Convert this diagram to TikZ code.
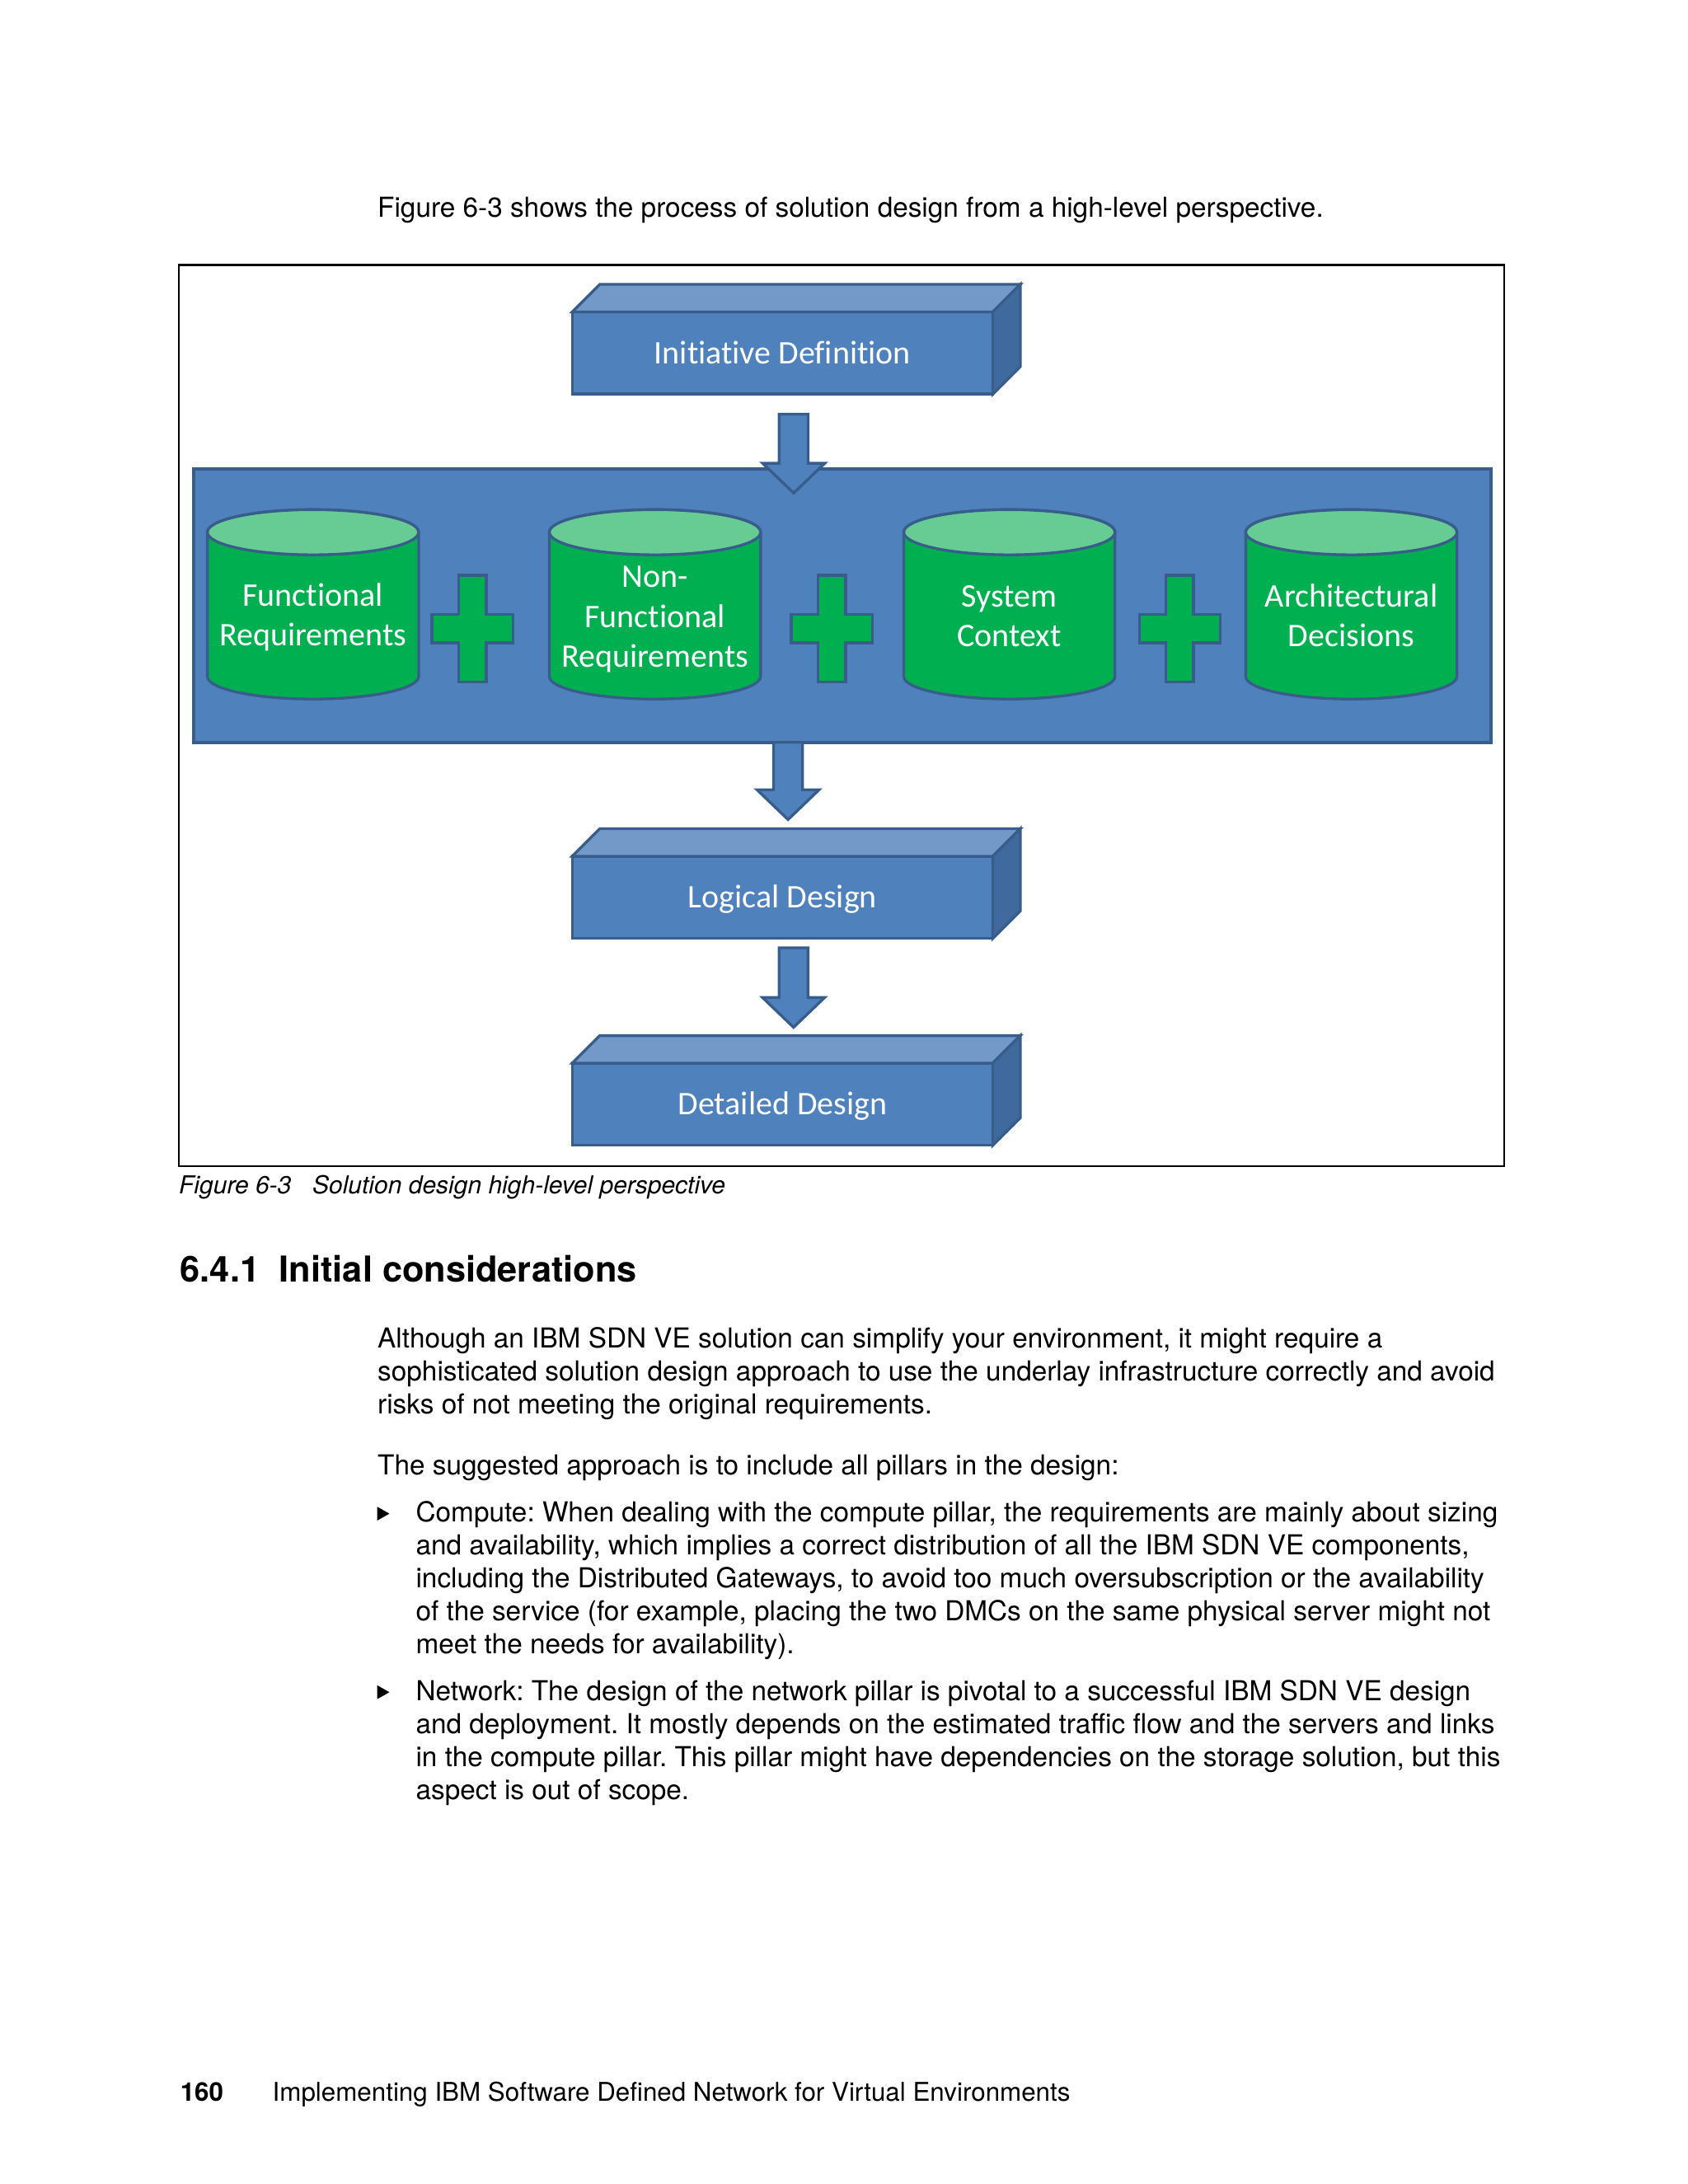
\documentclass[tikz,border=0pt]{standalone}
\usepackage{fontspec}
\setmainfont{TeX Gyre Heros}
\newfontfamily\calibri[Ligatures=NoCommon]{Carlito}
\usetikzlibrary{calc}
\frenchspacing

\definecolor{boxblue}{HTML}{4F81BD}
\definecolor{boxline}{HTML}{385D8A}
\definecolor{boxtop}{HTML}{7399C9}
\definecolor{boxside}{HTML}{406A9E}
\definecolor{pillargreen}{HTML}{00B050}
\definecolor{pillartop}{HTML}{66CC94}

\tikzset{
  stage/.style={draw=boxline, fill=boxblue, line width=1bp, outer sep=0pt, inner sep=0pt,
    minimum width=152.5bp, minimum height=29.8bp, text=white,
    font=\calibri\fontsize{12}{14.4}\selectfont, text height=9.5bp, text depth=1.7bp},
  stagetop/.style={draw=boxline, fill=boxtop, line width=1bp},
  stageside/.style={draw=boxline, fill=boxside, line width=1bp},
  layer/.style={draw=boxline, fill=boxblue, line width=1.2bp, outer sep=0pt, inner sep=0pt,
    minimum width=470.3bp, minimum height=99.1bp},
  pillarbody/.style={draw=boxline, fill=pillargreen, line width=1bp},
  pillarcap/.style={draw=boxline, fill=pillartop, line width=1bp},
  pillar/.style={text=white, align=center, inner sep=0pt,
    font=\calibri\fontsize{12}{14.45}\selectfont},
  plus/.style={draw=boxline, fill=pillargreen, line width=1bp},
  blockarrow/.style={draw=boxline, fill=boxblue, line width=1bp,
    to path={let \p1=(\tikztostart), \p2=(\tikztotarget) in
      (\x1-5.25bp,\y1) -- (\x1+5.25bp,\y1) -- (\x1+5.25bp,\y2+10.8bp)
      -- (\x1+11.25bp,\y2+10.8bp) -- (\x1,\y2) -- (\x1-11.25bp,\y2+10.8bp)
      -- (\x1-5.25bp,\y2+10.8bp) -- cycle}},
  line/.style={anchor=base west, inner sep=0pt, font=\fontsize{10}{12}\selectfont},
}

\begin{document}
\begin{tikzpicture}[x=1bp,y=1bp]
\useasboundingbox (0,0) rectangle (612,-792);
\node[line] (intro) at (136.75,-78.7) {Figure 6-3 shows the process of solution design from a high-level perspective.};

% figure frame
\draw [black, line width=0.7bp] (64.9,-96.1) rectangle (545.5,-422.8);

% initiative
\node[stage] (init) at (283.75,-128.0) {Initiative Definition};
\draw[stagetop] (init.north west) -- ++(10,10) -- ++(152.5,0) -- (init.north east) -- cycle;
\draw[stageside] (init.north east) -- ++(10,10) -- ++(0,-29.8) -- (init.south east) -- cycle;

% requirements layer
\node[layer] (layer) at (305.35,-219.65) {};
\coordinate (a1s) at ([xshift=4.05bp,yshift=-7.3bp]init.south);
\coordinate (a1e) at ($(a1s |- layer.north)+(0,-8.7)$);
\draw[blockarrow] (a1s) to (a1e);

% pillars
\draw[pillarbody] (75.2,-193) -- (75.2,-245.3) arc [start angle=180, end angle=360, x radius=38.3, y radius=8.2] -- (151.8,-193) arc [start angle=0, end angle=180, x radius=38.3, y radius=8.2] -- cycle;
\draw[pillarcap] (113.5,-193) ellipse [x radius=38.3, y radius=8.2];
\node[pillar] (func) at (113.5,-223.9) {Functional\\Requirements};

\draw[pillarbody] (199.2,-193) -- (199.2,-245.3) arc [start angle=180, end angle=360, x radius=38.3, y radius=8.2] -- (275.8,-193) arc [start angle=0, end angle=180, x radius=38.3, y radius=8.2] -- cycle;
\draw[pillarcap] (237.5,-193) ellipse [x radius=38.3, y radius=8.2];
\node[pillar] (nonfunc) at (237.5,-224.6) {Non-\\Functional\\Requirements};

\draw[pillarbody] (327.7,-193) -- (327.7,-245.3) arc [start angle=180, end angle=360, x radius=38.3, y radius=8.2] -- (404.3,-193) arc [start angle=0, end angle=180, x radius=38.3, y radius=8.2] -- cycle;
\draw[pillarcap] (366,-193) ellipse [x radius=38.3, y radius=8.2];
\node[pillar] (context) at (366,-223.4) {System\\Context};

\draw[pillarbody] (451.7,-193) -- (451.7,-245.3) arc [start angle=180, end angle=360, x radius=38.3, y radius=8.2] -- (528.3,-193) arc [start angle=0, end angle=180, x radius=38.3, y radius=8.2] -- cycle;
\draw[pillarcap] (490,-193) ellipse [x radius=38.3, y radius=8.2];
\node[pillar] (decisions) at (490,-223.2) {Architectural\\Decisions};

% plus signs
\draw[plus] (166.3,-208.6) -- ++(10,0) -- ++(0,-14.3) -- ++(9.7,0) -- ++(0,-10.2) -- ++(-9.7,0) -- ++(0,-14.3) -- ++(-10,0) -- ++(0,14.3) -- ++(-9.7,0) -- ++(0,10.2) -- ++(9.7,0) -- cycle;
\draw[plus] (296.6,-208.6) -- ++(10,0) -- ++(0,-14.3) -- ++(9.7,0) -- ++(0,-10.2) -- ++(-9.7,0) -- ++(0,-14.3) -- ++(-10,0) -- ++(0,14.3) -- ++(-9.7,0) -- ++(0,10.2) -- ++(9.7,0) -- cycle;
\draw[plus] (422.8,-208.6) -- ++(10,0) -- ++(0,-14.3) -- ++(9.7,0) -- ++(0,-10.2) -- ++(-9.7,0) -- ++(0,-14.3) -- ++(-10,0) -- ++(0,14.3) -- ++(-9.7,0) -- ++(0,10.2) -- ++(9.7,0) -- cycle;

% logical design
\node[stage] (logic) at (283.75,-325.4) {Logical Design};
\draw[stagetop] (logic.north west) -- ++(10,10) -- ++(152.5,0) -- (logic.north east) -- cycle;
\draw[stageside] (logic.north east) -- ++(10,10) -- ++(0,-29.8) -- (logic.south east) -- cycle;
\coordinate (a2s) at ([xshift=-19.6bp]layer.south);
\coordinate (a2e) at ($(a2s |- logic.north)+(0,13.3)$);
\draw[blockarrow] (a2s) to (a2e);

% detailed design
\node[stage] (detail) at (283.75,-400.45) {Detailed Design};
\draw[stagetop] (detail.north west) -- ++(10,10) -- ++(152.5,0) -- (detail.north east) -- cycle;
\draw[stageside] (detail.north east) -- ++(10,10) -- ++(0,-29.8) -- (detail.south east) -- cycle;
\coordinate (a3s) at ([xshift=4bp,yshift=-3.4bp]logic.south);
\coordinate (a3e) at ($(a3s |- detail.north)+(0,13)$);
\draw[blockarrow] (a3s) to (a3e);

% caption and heading
\node[line, font=\itshape\fontsize{9}{10}\selectfont] (capnum) at (64.7,-433.0) {Figure 6-3};
\node[line, font=\itshape\fontsize{9}{10}\selectfont] (captext) at (113.1,-433.0) {Solution design high-level perspective};
\node[line, font=\bfseries\fontsize{13}{14}\selectfont] (secnum) at (65.2,-464.9) {6.4.1};
\node[line, font=\bfseries\fontsize{13}{14}\selectfont] (sectitle) at (101.1,-464.9) {Initial considerations};

% body
\node[line] (p1) at (136.75,-488.9) {Although an IBM SDN VE solution can simplify your environment, it might require a};
\node[line] (p2) at (136.75,-500.85) {sophisticated solution design approach to use the underlay infrastructure correctly and avoid};
\node[line] (p3) at (136.75,-512.8) {risks of not meeting the original requirements.};
\node[line] (p4) at (136.75,-534.7) {The suggested approach is to include all pillars in the design:};

\fill (136.8,-546.4) -- (141.2,-548.9) -- (136.8,-551.4) -- cycle;
\node[line] (b1) at (150.6,-551.85) {Compute: When dealing with the compute pillar, the requirements are mainly about sizing};
\node[line] (b2) at (150.6,-563.8) {and availability, which implies a correct distribution of all the IBM SDN VE components,};
\node[line] (b3) at (150.6,-575.75) {including the Distributed Gateways, to avoid too much oversubscription or the availability};
\node[line] (b4) at (150.6,-587.7) {of the service (for example, placing the two DMCs on the same physical server might not};
\node[line] (b5) at (150.6,-599.65) {meet the needs for availability).};

\fill (136.8,-611.15) -- (141.2,-613.65) -- (136.8,-616.15) -- cycle;
\node[line] (n1) at (150.6,-616.6) {Network: The design of the network pillar is pivotal to a successful IBM SDN VE design};
\node[line] (n2) at (150.6,-628.55) {and deployment. It mostly depends on the estimated traffic flow and the servers and links};
\node[line] (n3) at (150.6,-640.5) {in the compute pillar. This pillar might have dependencies on the storage solution, but this};
\node[line] (n4) at (150.6,-652.45) {aspect is out of scope.};

% footer
\node[line, font=\bfseries\fontsize{9.4}{10}\selectfont] (pageno) at (65.2,-762.0) {160};
\node[line, font=\fontsize{9.4}{10}\selectfont] (booktitle) at (98.6,-762.0) {Implementing IBM Software Defined Network for Virtual Environments};
\end{tikzpicture}
\end{document}
